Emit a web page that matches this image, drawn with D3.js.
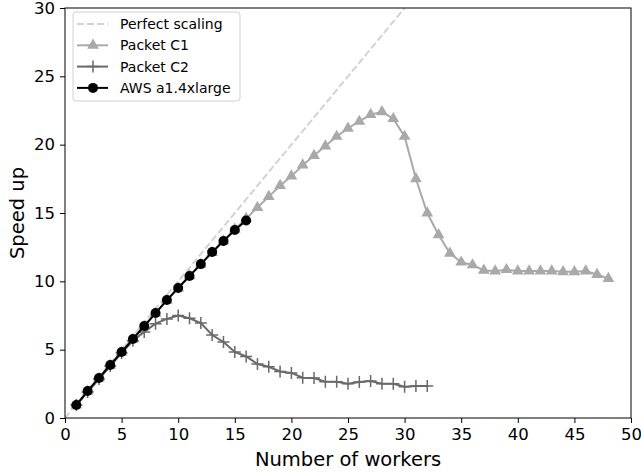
<!DOCTYPE html>
<html>
<head>
<meta charset="utf-8">
<script src="https://cdn.jsdelivr.net/npm/d3@7"></script>
<style>
  body { margin: 0; background: #fff; }
  text { font-family: "DejaVu Sans", sans-serif; }
</style>
</head>
<body>
<div id="chart"></div>
<script>
// Speed up vs number of workers

const workers = d3.range(1, 49)
const perfectX = [0, 50]

const awsSpeedup = [0.95, 1.98, 2.93, 3.88, 4.83, 5.78, 6.73, 7.68, 8.63, 9.51,
  10.39, 11.26, 12.14, 12.95, 13.75, 14.45]

const c1Speedup = [0.95, 1.95, 2.9, 3.85, 4.8, 5.75, 6.7, 7.65, 8.6, 9.5,
  10.4, 11.25, 12.1, 12.95, 13.8, 14.6, 15.4, 16.2, 17.0, 17.7,
  18.5, 19.2, 19.9, 20.6, 21.2, 21.7, 22.2, 22.4, 21.9, 20.6,
  17.5, 15.0, 13.4, 12.05, 11.4, 11.2, 10.8, 10.75, 10.85, 10.75,
  10.75, 10.75, 10.75, 10.7, 10.7, 10.75, 10.5, 10.2]

const c2Speedup = [0.95, 1.9, 2.85, 3.8, 4.75, 5.65, 6.3, 6.9, 7.25, 7.5,
  7.3, 6.95, 6.07, 5.56, 4.83, 4.5, 3.95, 3.75, 3.4, 3.3,
  2.95, 2.93, 2.65, 2.65, 2.5, 2.63, 2.71, 2.5, 2.5, 2.28,
  2.35, 2.35]

const xTicks = d3.range(0, 51, 5)
const yTicks = d3.range(0, 31, 5)

const WIDTH = 641, HEIGHT = 473
const MARGIN = {TOP: 8, LEFT: 65}
const X_RIGHT = 631, Y_BOTTOM = 418

const svg = d3.select("#chart").append("svg")
  .attr("width", WIDTH)
  .attr("height", HEIGHT)

const x = d3.scaleLinear().domain([0, 50]).range([MARGIN.LEFT, X_RIGHT])
const y = d3.scaleLinear().domain([0, 30]).range([Y_BOTTOM, MARGIN.TOP])

svg.append("defs").append("clipPath").attr("id", "plotclip")
  .append("rect")
    .attr("x", MARGIN.LEFT).attr("y", MARGIN.TOP)
    .attr("width", X_RIGHT - MARGIN.LEFT)
    .attr("height", Y_BOTTOM - MARGIN.TOP)

const plot = svg.append("g").attr("clip-path", "url(#plotclip)")

// perfect scaling
plot.append("path")
  .attr("d", d3.line().x(d => x(d)).y(d => y(d))(perfectX))
  .attr("fill", "none")
  .attr("stroke", "#d3d3d3")
  .attr("stroke-width", 2)
  .attr("stroke-dasharray", "7,3")

const line = d3.line().x((d, i) => x(workers[i])).y(d => y(d))

const series = [
  {name: "Packet C1", values: c1Speedup, color: "#a9a9a9", marker: "triangle"},
  {name: "Packet C2", values: c2Speedup, color: "#696969", marker: "plus"},
  {name: "AWS a1.4xlarge", values: awsSpeedup, color: "#000000", marker: "circle"}
]

function drawMarker(g, type, color) {
  if (type === "triangle") {
    g.append("path")
      .attr("d", d3.symbol().type(d3.symbolTriangle).size(60)())
      .attr("fill", color)
  } else if (type === "plus") {
    g.append("path")
      .attr("d", "M-6,0H6M0,-6V6")
      .attr("stroke", color)
      .attr("stroke-width", 1.5)
  } else {
    g.append("circle").attr("r", 5).attr("fill", color)
  }
}

series.forEach(s => {
  plot.append("path")
    .attr("d", line(s.values))
    .attr("fill", "none")
    .attr("stroke", s.color)
    .attr("stroke-width", 2)
  plot.selectAll(null)
    .data(s.values)
    .enter()
    .append("g")
      .attr("transform", (d, i) => `translate(${x(workers[i])},${y(d)})`)
      .each(function () { drawMarker(d3.select(this), s.marker, s.color) })
})

// axes
const xAxis = svg.append("g")
  .attr("transform", `translate(0,${Y_BOTTOM})`)
  .call(d3.axisBottom(x).tickValues(xTicks).tickSize(5).tickPadding(5))
const yAxis = svg.append("g")
  .attr("transform", `translate(${MARGIN.LEFT},0)`)
  .call(d3.axisLeft(y).tickValues(yTicks).tickSize(5).tickPadding(5))

for (const ax of [xAxis, yAxis]) {
  ax.select(".domain").remove()
  ax.selectAll("text")
    .attr("font-family", "DejaVu Sans")
    .attr("font-size", 16.5)
    .attr("fill", "#000")
  ax.selectAll("line").attr("stroke", "#000")
}

svg.append("rect")
  .attr("x", MARGIN.LEFT).attr("y", MARGIN.TOP)
  .attr("width", X_RIGHT - MARGIN.LEFT)
  .attr("height", Y_BOTTOM - MARGIN.TOP)
  .attr("fill", "none")
  .attr("stroke", "#000")
  .attr("stroke-width", 1)

svg.append("text")
  .attr("x", (MARGIN.LEFT + X_RIGHT) / 2)
  .attr("y", 466)
  .attr("text-anchor", "middle")
  .attr("font-size", 19.5)
  .text("Number of workers")

svg.append("text")
  .attr("transform", `translate(24,${(MARGIN.TOP + Y_BOTTOM) / 2}) rotate(-90)`)
  .attr("text-anchor", "middle")
  .attr("font-size", 19.5)
  .text("Speed up")

// legend
const legend = svg.append("g").attr("transform", "translate(73,12)")
legend.append("rect")
  .attr("width", 167).attr("height", 89)
  .attr("rx", 3)
  .attr("fill", "#fff").attr("fill-opacity", 0.8)
  .attr("stroke", "#d0d0d0")

const legendItems = [
  {name: "Perfect scaling", color: "#d3d3d3", dashed: true},
  ...series
]

legendItems.forEach((s, i) => {
  const row = legend.append("g").attr("transform", `translate(0,${12 + i * 21.3})`)
  row.append("line")
    .attr("x1", 4).attr("x2", 35)
    .attr("stroke", s.color)
    .attr("stroke-width", 2)
    .attr("stroke-dasharray", s.dashed ? "7,3" : null)
  if (s.marker) {
    drawMarker(row.append("g").attr("transform", "translate(20,0)"), s.marker, s.color)
  }
  row.append("text")
    .attr("x", 47).attr("y", 5)
    .attr("font-size", 14)
    .text(s.name)
})
</script>
</body>
</html>
